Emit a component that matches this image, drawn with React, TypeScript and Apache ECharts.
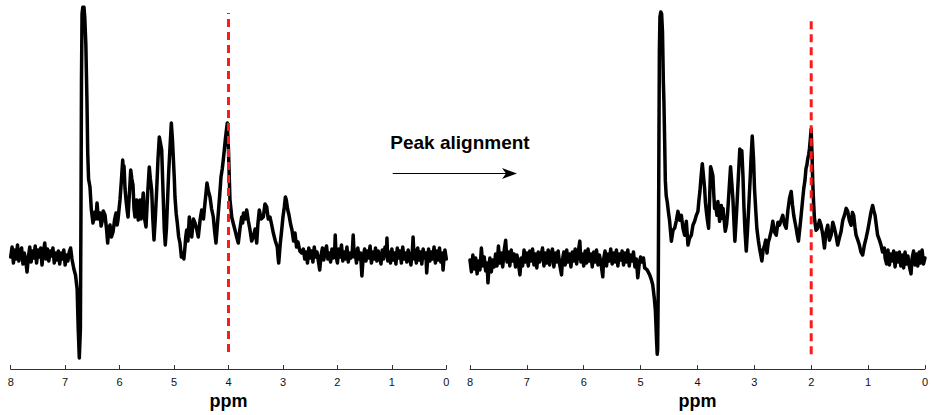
import React, { useEffect, useRef } from "react";
import * as echarts from "echarts";

// ppm axis ticks
const ppmTicks = [0, 1, 2, 3, 4, 5, 6, 7, 8];

// ---------- LEFT (before alignment): [ppm, intensity] ----------
const leftBaselineHigh: [number, number][] = [
  [8.0, 112], [7.975, 122], [7.95, 106], [7.925, 119], [7.9, 110], [7.875, 124], [7.85, 108], [7.825, 117],
  [7.8, 121], [7.775, 105], [7.75, 116], [7.725, 109], [7.7, 97], [7.675, 112], [7.65, 122], [7.625, 107],
  [7.6, 118], [7.575, 111], [7.55, 123], [7.525, 106], [7.5, 119], [7.475, 112], [7.45, 121], [7.425, 104],
  [7.4, 117], [7.375, 126], [7.35, 110], [7.325, 120], [7.3, 108], [7.275, 118], [7.25, 113], [7.225, 121],
  [7.2, 106], [7.175, 116], [7.15, 109], [7.125, 118], [7.1, 105], [7.075, 116], [7.05, 110], [7.025, 119],
  [7.0, 104], [6.975, 114], [6.95, 108], [6.925, 117], [6.9, 121], [6.875, 110],
];
const leftSignal: [number, number][] = [
  [6.84, 100], [6.81, 94], [6.78, 80], [6.76, 40], [6.74, 11], [6.72, 40], [6.71, 150], [6.7, 290],
  [6.69, 355], [6.675, 362], [6.655, 362], [6.64, 352], [6.62, 325], [6.6, 270], [6.585, 215], [6.57, 190],
  [6.544, 182], [6.52, 160], [6.489, 146], [6.47, 152], [6.452, 157], [6.435, 150], [6.415, 166],
  [6.39, 150], [6.36, 156], [6.34, 143], [6.323, 147], [6.3, 158], [6.268, 154], [6.24, 140],
  [6.219, 126], [6.2, 140], [6.176, 144], [6.15, 132], [6.121, 137], [6.09, 150], [6.066, 156],
  [6.045, 144], [6.03, 149], [6.01, 160], [5.993, 169], [5.965, 190], [5.943, 209], [5.93, 198],
  [5.919, 203], [5.9, 180], [5.882, 169], [5.86, 158], [5.845, 152], [5.82, 175], [5.796, 199],
  [5.775, 190], [5.754, 184], [5.735, 160], [5.717, 152], [5.7, 165], [5.686, 169], [5.67, 155],
  [5.657, 149], [5.64, 160], [5.625, 169], [5.605, 150], [5.589, 154], [5.575, 170], [5.565, 176],
  [5.54, 150], [5.515, 142], [5.485, 175], [5.455, 202], [5.435, 190], [5.411, 179], [5.39, 150],
  [5.368, 129], [5.345, 150], [5.319, 179], [5.295, 210], [5.271, 232], [5.25, 226], [5.227, 219],
  [5.21, 190], [5.197, 169], [5.18, 140], [5.161, 124], [5.14, 140], [5.124, 162], [5.1, 195],
  [5.074, 222], [5.05, 246], [5.03, 230], [5.014, 212], [4.995, 190], [4.983, 172], [4.96, 155],
  [4.94, 146], [4.915, 132], [4.891, 126], [4.865, 112], [4.841, 116], [4.82, 110], [4.799, 122],
  [4.785, 132], [4.768, 139], [4.745, 128], [4.72, 152], [4.7, 140], [4.676, 132], [4.645, 150],
  [4.615, 146], [4.585, 140], [4.555, 132], [4.52, 150], [4.492, 159], [4.46, 150], [4.432, 166],
  [4.415, 175], [4.395, 186], [4.37, 178], [4.34, 172], [4.31, 160], [4.279, 152], [4.255, 138],
  [4.23, 126], [4.21, 140], [4.187, 156], [4.16, 175], [4.138, 192], [4.115, 200], [4.096, 209],
  [4.075, 220], [4.059, 229], [4.04, 238], [4.022, 246], [4.0, 219], [3.985, 190], [3.973, 169],
  [3.955, 160], [3.941, 152], [3.91, 145], [3.881, 139], [3.85, 132], [3.82, 126], [3.79, 140],
  [3.758, 152], [3.74, 146], [3.725, 156], [3.695, 150], [3.666, 159], [3.635, 148], [3.605, 139],
  [3.575, 128], [3.545, 132], [3.51, 140], [3.482, 126], [3.46, 145], [3.434, 159], [3.4, 150],
  [3.361, 152], [3.33, 165], [3.298, 162], [3.27, 150], [3.238, 152], [3.21, 145], [3.177, 136],
  [3.14, 128], [3.104, 122], [3.09, 112], [3.078, 106], [3.05, 125], [3.023, 139], [3.0, 152],
  [2.975, 162], [2.955, 172], [2.938, 169], [2.915, 160], [2.889, 154], [2.86, 145], [2.834, 139],
  [2.805, 128], [2.779, 136], [2.75, 122], [2.724, 127], [2.69, 118], [2.656, 116],
];
const leftBaselineLow: [number, number][] = [
  [2.625, 120], [2.6, 110], [2.575, 117], [2.55, 106], [2.525, 121], [2.5, 111], [2.475, 118], [2.45, 107],
  [2.425, 122], [2.4, 112], [2.375, 117], [2.35, 108], [2.325, 99], [2.3, 114], [2.275, 121], [2.25, 109],
  [2.225, 118], [2.2, 123], [2.175, 110], [2.15, 116], [2.125, 107], [2.1, 120], [2.075, 111], [2.05, 118],
  [2.04, 134], [2.025, 113], [2.0, 106], [1.975, 120], [1.95, 112], [1.925, 124], [1.9, 108], [1.875, 117],
  [1.85, 110], [1.825, 122], [1.8, 107], [1.775, 116], [1.75, 111], [1.725, 119], [1.71, 134], [1.69, 112],
  [1.675, 119], [1.65, 106], [1.625, 121], [1.6, 110], [1.575, 116], [1.55, 93], [1.525, 113], [1.5, 120],
  [1.475, 108], [1.45, 118], [1.425, 111], [1.4, 123], [1.375, 106], [1.35, 117], [1.325, 110], [1.3, 121],
  [1.275, 108], [1.25, 118], [1.225, 112], [1.2, 105], [1.175, 119], [1.15, 110], [1.125, 122], [1.1, 113],
  [1.09, 131], [1.075, 108], [1.05, 117], [1.025, 106], [1.0, 120], [0.975, 109], [0.95, 116], [0.925, 105],
  [0.9, 121], [0.875, 111], [0.85, 118], [0.825, 106], [0.8, 122], [0.775, 110], [0.75, 116], [0.725, 107],
  [0.7, 119], [0.675, 112], [0.65, 104], [0.625, 117], [0.61, 132], [0.59, 110], [0.575, 119], [0.55, 106],
  [0.525, 121], [0.5, 109], [0.475, 117], [0.45, 105], [0.425, 120], [0.4, 111], [0.375, 116], [0.36, 96],
  [0.34, 112], [0.325, 120], [0.3, 108], [0.275, 117], [0.25, 110], [0.225, 122], [0.2, 106], [0.175, 118],
  [0.15, 109], [0.125, 121], [0.1, 107], [0.075, 116], [0.06, 99], [0.04, 112], [0.025, 119], [0.0, 110],
];

// ---------- RIGHT (after alignment): [ppm, intensity] ----------
const rightBaselineHigh: [number, number][] = [
  [8.0, 110], [7.975, 98], [7.95, 115], [7.925, 101], [7.9, 112], [7.875, 96], [7.85, 109], [7.825, 100],
  [7.8, 122], [7.775, 104], [7.75, 113], [7.725, 99], [7.7, 107], [7.684, 87], [7.665, 104], [7.65, 112],
  [7.625, 98], [7.6, 110], [7.575, 103], [7.55, 116], [7.525, 104], [7.5, 124], [7.475, 107], [7.45, 117],
  [7.425, 103], [7.4, 119], [7.373, 130], [7.35, 108], [7.325, 118], [7.3, 104], [7.275, 120], [7.25, 109],
  [7.225, 116], [7.2, 103], [7.175, 115], [7.15, 107], [7.122, 95], [7.1, 112], [7.075, 104], [7.05, 120],
  [7.025, 108], [7.0, 117], [6.975, 104], [6.95, 119], [6.925, 109], [6.9, 121], [6.875, 105], [6.85, 116],
  [6.825, 102], [6.8, 118], [6.775, 108], [6.75, 115], [6.725, 122], [6.7, 104], [6.675, 117], [6.65, 107],
  [6.625, 120], [6.6, 105], [6.575, 116], [6.55, 121], [6.525, 103], [6.5, 117], [6.475, 108], [6.45, 119],
  [6.425, 106], [6.39, 95], [6.375, 110], [6.35, 118], [6.325, 105], [6.3, 120], [6.275, 108], [6.25, 116],
  [6.225, 103], [6.2, 118], [6.175, 109], [6.15, 121], [6.125, 106], [6.1, 117], [6.069, 129], [6.05, 108],
  [6.025, 116], [6.0, 104], [5.975, 119], [5.95, 107], [5.925, 121], [5.9, 109], [5.875, 116], [5.85, 103],
  [5.825, 118], [5.8, 108], [5.775, 120], [5.75, 105], [5.725, 115], [5.7, 108], [5.665, 93], [5.65, 111],
  [5.625, 119], [5.6, 104], [5.575, 116], [5.55, 109], [5.525, 121], [5.5, 106], [5.475, 117], [5.45, 108],
  [5.425, 120], [5.4, 104], [5.375, 116], [5.35, 110], [5.325, 119], [5.3, 105], [5.275, 117], [5.25, 108],
  [5.225, 120], [5.2, 104], [5.175, 115], [5.15, 109], [5.125, 118], [5.1, 103], [5.075, 111], [5.05, 92],
  [5.025, 106], [5.0, 113], [4.975, 108],
];
const rightSignal: [number, number][] = [
  [4.95, 112], [4.928, 102], [4.885, 100], [4.84, 95], [4.81, 90], [4.787, 85], [4.76, 72], [4.74, 59],
  [4.72, 30], [4.708, 15], [4.7, 20], [4.69, 80], [4.68, 200], [4.67, 320], [4.66, 355], [4.645, 360],
  [4.63, 358], [4.615, 340], [4.6, 290], [4.59, 270], [4.577, 230], [4.565, 190], [4.55, 175], [4.53, 168],
  [4.51, 158], [4.489, 149], [4.459, 129], [4.43, 140], [4.401, 142], [4.37, 150], [4.343, 159],
  [4.31, 150], [4.283, 155], [4.255, 142], [4.226, 135], [4.196, 149], [4.167, 125], [4.138, 132],
  [4.108, 135], [4.08, 145], [4.05, 149], [4.02, 155], [3.992, 159], [3.975, 170], [3.957, 179],
  [3.935, 195], [3.915, 207], [3.895, 195], [3.874, 182], [3.86, 168], [3.844, 159], [3.825, 150],
  [3.804, 142], [3.785, 175], [3.769, 204], [3.75, 200], [3.729, 195], [3.715, 178], [3.699, 162],
  [3.68, 166], [3.658, 155], [3.641, 169], [3.625, 158], [3.611, 149], [3.595, 160], [3.581, 165],
  [3.565, 152], [3.55, 162], [3.53, 150], [3.511, 139], [3.49, 145], [3.47, 157], [3.445, 180],
  [3.418, 204], [3.4, 190], [3.377, 172], [3.36, 150], [3.342, 129], [3.325, 145], [3.304, 167],
  [3.28, 195], [3.255, 222], [3.24, 218], [3.22, 220], [3.2, 195], [3.184, 165], [3.165, 140],
  [3.142, 119], [3.12, 140], [3.097, 165], [3.075, 190], [3.058, 212], [3.037, 235], [3.014, 212],
  [2.997, 182], [2.975, 160], [2.956, 142], [2.93, 130], [2.909, 122], [2.89, 116], [2.868, 109],
  [2.845, 120], [2.821, 125], [2.8, 130], [2.777, 117], [2.755, 128], [2.733, 132], [2.7, 140],
  [2.675, 149], [2.645, 138], [2.615, 135], [2.585, 148], [2.558, 145], [2.53, 150], [2.5, 155],
  [2.47, 146], [2.44, 142], [2.41, 160], [2.382, 172], [2.352, 179], [2.33, 166], [2.307, 155],
  [2.285, 148], [2.264, 142], [2.245, 135], [2.224, 129], [2.2, 142], [2.177, 155], [2.155, 168],
  [2.131, 182], [2.11, 190], [2.092, 202], [2.075, 206], [2.061, 212], [2.045, 216], [2.031, 222],
  [2.015, 232], [2.001, 242], [1.985, 215], [1.973, 189], [1.958, 168], [1.943, 152], [1.915, 140],
  [1.885, 142], [1.855, 150], [1.826, 145], [1.795, 135], [1.767, 122], [1.74, 138], [1.709, 145],
  [1.68, 130], [1.65, 135], [1.62, 148], [1.592, 142], [1.565, 135], [1.534, 125], [1.505, 132],
  [1.474, 139], [1.445, 150], [1.416, 155], [1.385, 162], [1.358, 159], [1.33, 150], [1.299, 145],
  [1.275, 158], [1.253, 155], [1.23, 143], [1.211, 135], [1.18, 130], [1.153, 125], [1.125, 118],
  [1.095, 115], [1.065, 125], [1.035, 132], [1.005, 140], [0.977, 149], [0.95, 158], [0.92, 165],
  [0.9, 160], [0.877, 155], [0.855, 145], [0.832, 135], [0.8, 130], [0.772, 125], [0.745, 118],
  [0.714, 122],
];
const rightBaselineLow: [number, number][] = [
  [0.7, 112], [0.675, 106], [0.65, 120], [0.625, 105], [0.6, 116], [0.575, 109], [0.55, 119], [0.525, 103],
  [0.5, 117], [0.475, 108], [0.45, 118], [0.425, 104], [0.4, 115], [0.375, 102], [0.35, 118], [0.325, 106],
  [0.3, 114], [0.275, 104], [0.245, 96], [0.225, 112], [0.2, 119], [0.175, 105], [0.15, 116], [0.125, 104],
  [0.1, 118], [0.075, 107], [0.05, 120], [0.025, 106], [0.0, 112],
];

// reference (alignment target) lines: [ppm, from, to]
const leftRefLine = [4.0, 17, 356];
const rightRefLine = [2.0, 15, 353];

const FONT = "'Liberation Sans', Arial, Helvetica, sans-serif";

function xAxisFor(gridIndex: number) {
  return {
    type: "value",
    gridIndex,
    min: 0,
    max: 8,
    interval: 1,
    inverse: true,
    name: "ppm",
    nameLocation: "middle",
    nameGap: 22,
    nameTextStyle: { fontFamily: FONT, fontWeight: "bold", fontSize: 18, color: "#000" },
    axisLine: { show: true, onZero: false, lineStyle: { color: "#333", width: 1 } },
    axisTick: { show: true, inside: true, length: 4, lineStyle: { color: "#333" } },
    axisLabel: {
      margin: 7,
      fontFamily: FONT,
      fontSize: 11,
      color: "#111",
      formatter: (v: number) => (ppmTicks.includes(v) ? String(v) : ""),
    },
    splitLine: { show: false },
  };
}

function yAxisFor(gridIndex: number, max: number) {
  return {
    type: "value",
    gridIndex,
    min: 0,
    max,
    show: false,
    splitLine: { show: false },
  };
}

function spectrumSeries(idx: number, data: [number, number][]) {
  return {
    type: "line",
    xAxisIndex: idx,
    yAxisIndex: idx,
    data,
    showSymbol: false,
    symbol: "none",
    silent: true,
    lineStyle: { color: "#000", width: 3.5, join: "round", cap: "round" },
    z: 2,
  };
}

function refSeries(idx: number, ref: number[]) {
  return {
    type: "line",
    xAxisIndex: idx,
    yAxisIndex: idx,
    data: [
      [ref[0], ref[1]],
      [ref[0], ref[2]],
    ],
    showSymbol: false,
    symbol: "none",
    silent: true,
    lineStyle: { color: "#ff1a1a", width: 3, type: [8, 5], cap: "butt" },
    z: 3,
  };
}

export default function App() {
  const ref = useRef<HTMLDivElement>(null);

  useEffect(() => {
    if (!ref.current) return;
    const chart = echarts.init(ref.current, null, { renderer: "svg" });
    const leftData = [...leftBaselineHigh, ...leftSignal, ...leftBaselineLow];
    const rightData = [...rightBaselineHigh, ...rightSignal, ...rightBaselineLow];
    chart.setOption({
      animation: false,
      backgroundColor: "#fff",
      grid: [
        { left: 10.7, top: 7, width: 435.6, height: 362 },
        { left: 470, top: 11, width: 455.7, height: 361 },
      ],
      xAxis: [xAxisFor(0), xAxisFor(1)],
      yAxis: [yAxisFor(0, 362), yAxisFor(1, 361)],
      series: [
        spectrumSeries(0, leftData),
        refSeries(0, leftRefLine),
        spectrumSeries(1, rightData),
        refSeries(1, rightRefLine),
      ],
      graphic: [
        {
          type: "text",
          x: 460,
          y: 142,
          style: {
            text: "Peak alignment",
            font: `bold 19px ${FONT}`,
            fill: "#000",
            align: "center",
            verticalAlign: "middle",
          },
        },
        {
          type: "line",
          shape: { x1: 392.7, y1: 173.5, x2: 508, y2: 173.5 },
          style: { stroke: "#000", lineWidth: 1 },
        },
        {
          type: "polygon",
          shape: {
            points: [
              [517, 173.5],
              [502, 168],
              [506, 173.5],
              [502, 179],
            ],
          },
          style: { fill: "#000" },
        },
      ],
    });
    return () => chart.dispose();
  }, []);

  return (
    <div
      ref={ref}
      style={{ position: "fixed", left: 0, top: 0, width: 931, height: 415, background: "#fff" }}
    />
  );
}
